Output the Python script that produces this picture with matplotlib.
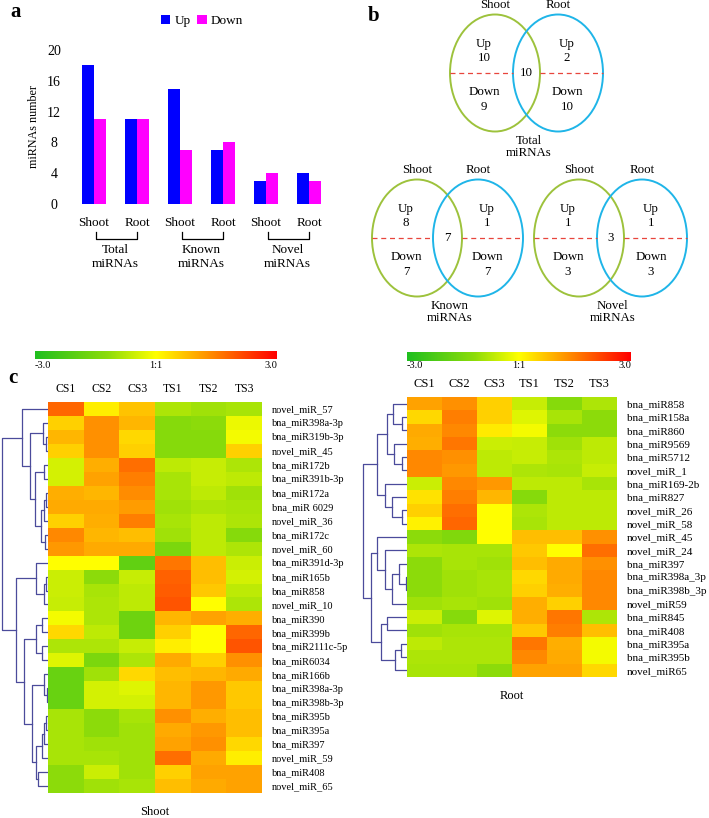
import numpy as np
import matplotlib
matplotlib.use("Agg")
import matplotlib.pyplot as plt
from matplotlib.patches import Ellipse
from matplotlib.colors import LinearSegmentedColormap

plt.rcParams['font.family'] = ['Liberation Serif', 'DejaVu Serif']

W, H = 709, 818

# ---- panel a data
bar_cats = ["Shoot", "Root", "Shoot", "Root", "Shoot", "Root"]
bar_groups = ["Total\nmiRNAs", "Known\nmiRNAs", "Novel\nmiRNAs"]
up_counts = [18, 11, 15, 7, 3, 4]
down_counts = [11, 11, 7, 8, 4, 3]

# ---- panel b data (shoot up, shoot down, common, root up, root down)
venn_names = ["Total\nmiRNAs", "Known\nmiRNAs", "Novel\nmiRNAs"]
shoot_up = [10, 8, 1]
shoot_down = [9, 7, 3]
common = [10, 7, 3]
root_up = [2, 1, 1]
root_down = [10, 7, 3]

# ---- panel c data
samples = ["CS1", "CS2", "CS3", "TS1", "TS2", "TS3"]
shoot_rows = ["novel_miR_57", "bna_miR398a-3p", "bna_miR319b-3p", "novel_miR_45",
              "bna_miR172b", "bna_miR391b-3p", "bna_miR172a", "bna_miR 6029",
              "novel_miR_36", "bna_miR172c", "novel_miR_60", "bna_miR391d-3p",
              "bna_miR165b", "bna_miR858", "novel_miR_10", "bna_miR390",
              "bna_miR399b", "bna_miR2111c-5p", "bna_miR6034", "bna_miR166b",
              "bna_miR398a-3p", "bna_miR398b-3p", "bna_miR395b", "bna_miR395a",
              "bna_miR397", "novel_miR_59", "bna_miR408", "novel_miR_65"]
shoot_vals = [
    [1.8, 0.2, 0.7, -0.85, -1.0, -0.9],
    [0.55, 1.3, 0.85, -1.3, -1.2, -0.2],
    [0.85, 1.3, 0.45, -1.3, -1.3, -0.1],
    [0.55, 1.3, 0.55, -1.3, -1.3, 0.55],
    [-0.45, 0.95, 1.7, -0.7, -0.6, -0.85],
    [-0.45, 1.1, 1.5, -0.9, -0.6, -0.7],
    [0.95, 0.85, 1.35, -0.9, -0.7, -1.0],
    [1.0, 1.0, 1.15, -1.0, -0.85, -0.9],
    [0.55, 0.95, 1.5, -0.9, -0.7, -0.85],
    [1.4, 0.85, 0.75, -1.0, -0.7, -1.3],
    [1.2, 1.0, 1.0, -1.5, -0.7, -0.85],
    [0.0, 0.0, -1.9, 1.6, 0.75, -0.55],
    [-0.55, -1.2, -0.6, 1.85, 0.75, -0.45],
    [-0.55, -0.9, -0.7, 1.9, 0.65, -0.7],
    [-0.6, -0.85, -0.7, 2.0, 0.0, -0.85],
    [-0.1, -0.85, -1.7, 0.85, 1.1, 0.95],
    [0.45, -0.7, -1.7, 0.55, 0.0, 1.8],
    [-0.85, -0.85, -0.6, 0.2, 0.0, 2.0],
    [-0.35, -1.5, -0.85, 1.0, 0.55, 1.3],
    [-1.8, -1.0, 0.45, 0.75, 0.85, 1.0],
    [-1.8, -0.45, -0.35, 0.85, 1.2, 0.65],
    [-1.8, -0.45, -0.45, 0.85, 1.2, 0.65],
    [-0.9, -1.2, -0.9, 1.3, 0.95, 0.75],
    [-0.9, -1.2, -1.0, 1.0, 1.2, 0.75],
    [-0.9, -1.0, -1.0, 1.1, 1.3, 0.45],
    [-0.9, -0.9, -1.0, 1.7, 1.0, 0.2],
    [-1.2, -0.55, -1.0, 0.55, 1.1, 1.1],
    [-1.2, -1.0, -0.9, 0.75, 1.0, 1.1],
]
root_rows = ["bna_miR858", "bna_miR158a", "bna_miR860", "bna_miR9569", "bna_miR5712",
             "novel_miR_1", "bna_miR169-2b", "bna_miR827", "novel_miR_26", "novel_miR_58",
             "novel_miR_45", "novel_miR_24", "bna_miR397", "bna_miR398a_3p",
             "bna_miR398b_3p", "novel_miR59", "bna_miR845", "bna_miR408",
             "bna_miR395a", "bna_miR395b", "novel_miR65"]
root_vals = [
    [1.1, 1.3, 0.55, -0.6, -1.3, -0.85],
    [0.45, 1.5, 0.55, -0.35, -0.9, -1.2],
    [1.0, 1.4, 0.25, -0.1, -1.2, -1.2],
    [0.95, 1.6, -0.55, -0.6, -1.0, -0.7],
    [1.4, 1.3, -0.7, -0.6, -0.85, -0.7],
    [1.4, 1.2, -0.7, -0.85, -0.9, -0.6],
    [-0.55, 1.4, 1.2, -0.7, -0.7, -0.9],
    [0.35, 1.5, 0.85, -1.3, -0.7, -0.7],
    [0.55, 1.7, 0.0, -0.85, -0.7, -0.7],
    [0.15, 1.8, 0.0, -0.9, -0.7, -0.7],
    [-1.2, -1.4, 0.0, 0.75, 0.75, 1.3],
    [-0.85, -0.9, -0.9, 0.65, 0.0, 1.7],
    [-1.2, -0.9, -1.0, 0.75, 1.0, 1.3],
    [-1.2, -1.0, -0.9, 0.45, 1.0, 1.4],
    [-1.2, -1.0, -0.9, 0.55, 0.95, 1.4],
    [-1.0, -0.9, -1.0, 0.95, 0.55, 1.4],
    [-0.55, -1.3, -0.35, 0.95, 1.6, -0.85],
    [-1.0, -0.9, -0.9, 0.65, 1.5, 0.75],
    [-0.7, -0.85, -0.85, 1.6, 0.95, -0.1],
    [-0.85, -0.85, -0.85, 1.4, 1.0, -0.1],
    [-0.9, -0.9, -1.2, 1.1, 1.1, 0.45],
]

# cluster trees: (left, right, height), leaves are row indices
shoot_tree = (
    (0, ((1, (2, 3, 2), 5),
         ((4, 5, 4), (((6, 7, 2), 8, 4), (9, 10, 3), 7), 13), 18), 26),
    ((11, ((12, 13, 2), 14, 4), 12),
     (((15, 16, 6), (17, 18, 6), 12),
      ((19, (20, 21, 1), 4),
       ((((22, 23, 2), 24, 4), 25, 6), (26, 27, 10), 12), 16), 24), 32),
    46)
root_tree = (
    (((0, (1, 2, 5), 14), (3, (4, 5, 5), 13), 20),
     (6, (7, (8, 9, 5), 15), 22), 30),
    ((10, (11, (((13, 14, 1), 12, 8), 15, 15), 22), 30),
     ((16, 17, 20), ((18, 19, 6), 20, 12), 26), 36),
    44)

cmap = LinearSegmentedColormap.from_list(
    "gyr", [(0, "#1fbf1f"), (0.3, "#8ddc0a"), (0.5, "#ffff00"), (1, "#ff0000")])
tree_col = "#4b4b9b"


def rect(l, t, r, b):
    return [l / W, 1 - b / H, (r - l) / W, (b - t) / H]


def draw_tree(ax, node):
    if isinstance(node, int):
        return node, 0.0
    a, b, h = node
    ya, ha = draw_tree(ax, a)
    yb, hb = draw_tree(ax, b)
    ax.plot([ha, h, h, hb], [ya, ya, yb, yb], color=tree_col, lw=0.9)
    return (ya + yb) / 2, h


fig = plt.figure(figsize=(W / 100, H / 100), dpi=100)
ov = fig.add_axes([0, 0, 1, 1])
ov.set_xlim(0, W)
ov.set_ylim(H, 0)
ov.axis('off')

# ================= panel a
ax = fig.add_axes(rect(79, 50, 324, 204))
x = np.arange(len(bar_cats))
bw = 0.28
ax.bar(x - bw / 2, up_counts, bw, color="#0000ff", label="Up")
ax.bar(x + bw / 2, down_counts, bw, color="#ff00ff", label="Down")
ax.set_xlim(-0.35, 5.35)
ax.set_ylim(0, 20)
ax.set_yticks([0, 4, 8, 12, 16, 20])
for s in ax.spines.values():
    s.set_visible(False)
ax.tick_params(axis='y', length=0, pad=18, labelsize=10)
for t in ax.get_yticklabels():
    t.set_horizontalalignment('center')
ax.set_xticks(x, bar_cats)
ax.tick_params(axis='x', length=0, pad=9, labelsize=9.5)
ax.set_ylabel("miRNAs number", fontsize=8.7, labelpad=5)
tr = ax.get_xaxis_transform()
for g, name in enumerate(bar_groups):
    i0, i1 = 2 * g, 2 * g + 1
    ax.plot([i0 + 0.05, i0 + 0.05, i1, i1], [-0.183, -0.227, -0.227, -0.183],
            color="black", lw=0.9, transform=tr, clip_on=False)
    ax.text((i0 + i1) / 2, -0.26, name, transform=tr, ha='center', va='top',
            fontsize=9.5, linespacing=1.2)
ax.legend(ncol=2, loc='center', bbox_to_anchor=(202 / W, 1 - 21 / H),
          bbox_transform=fig.transFigure, frameon=False, fontsize=9.5,
          handlelength=0.75, handleheight=0.75, handletextpad=0.3,
          columnspacing=0.5, borderaxespad=0)

# ================= panel b
venn_layout = [(495, 558, 73), (417, 478, 238), (579, 642, 238)]
ew, eh = 90, 117
for k, (cs, cr, cy) in enumerate(venn_layout):
    ov.add_patch(Ellipse((cs, cy), ew, eh, fill=False, ec="#9dc23c", lw=1.4))
    ov.add_patch(Ellipse((cr, cy), ew, eh, fill=False, ec="#1fb5e8", lw=1.4))
    ov.plot([cs - ew / 2, cr - ew / 2], [cy, cy], color="#e8453c", lw=0.9, ls=(0, (4, 3)))
    ov.plot([cs + ew / 2, cr + ew / 2], [cy, cy], color="#e8453c", lw=0.9, ls=(0, (4, 3)))
    fs = 9.3
    ov.text(cs, cy - 68, "Shoot", ha='center', va='center', fontsize=fs)
    ov.text(cr, cy - 68, "Root", ha='center', va='center', fontsize=fs)
    ov.text(cs - 11, cy - 29, "Up", ha='center', va='center', fontsize=fs)
    ov.text(cs - 11, cy - 15, str(shoot_up[k]), ha='center', va='center', fontsize=fs)
    ov.text(cs - 11, cy + 19, "Down", ha='center', va='center', fontsize=fs)
    ov.text(cs - 11, cy + 34, str(shoot_down[k]), ha='center', va='center', fontsize=fs)
    ov.text(cr + 9, cy - 29, "Up", ha='center', va='center', fontsize=fs)
    ov.text(cr + 9, cy - 15, str(root_up[k]), ha='center', va='center', fontsize=fs)
    ov.text(cr + 9, cy + 19, "Down", ha='center', va='center', fontsize=fs)
    ov.text(cr + 9, cy + 34, str(root_down[k]), ha='center', va='center', fontsize=fs)
    ov.text((cs + cr) / 2, cy, str(common[k]), ha='center', va='center', fontsize=fs)
    ov.text((cs + cr) / 2 + 2, cy + 62, venn_names[k], ha='center', va='top',
            fontsize=fs, linespacing=1.05)

# ================= panel c
def heat_panel(vals, rows, hm_box, tree, tree_left, cb_box, cb_lab_y, title, title_y,
               row_fs, col_fs):
    l, t, r, b = hm_box
    axh = fig.add_axes(rect(l, t, r, b))
    data = np.array(vals)
    n = len(rows)
    axh.imshow(data, cmap=cmap, vmin=-3, vmax=3, aspect='auto', interpolation='nearest')
    axh.set_ylim(n - 0.5, -0.5)
    axh.yaxis.tick_right()
    axh.set_yticks(range(n), rows)
    axh.xaxis.tick_top()
    axh.set_xticks(range(len(samples)), samples)
    axh.tick_params(axis='y', length=0, pad=7, labelsize=row_fs)
    axh.tick_params(axis='x', length=0, pad=5, labelsize=col_fs)
    for s in axh.spines.values():
        s.set_visible(False)
    # dendrogram
    axd = fig.add_axes(rect(tree_left, t, l, b))
    draw_tree(axd, tree)
    axd.set_ylim(n - 0.5, -0.5)
    axd.set_xlim(tree[2] + 1.2, 0)
    axd.axis('off')
    # colour bar
    cl, ct, cr_, cb = cb_box
    axc = fig.add_axes(rect(cl, ct, cr_, cb))
    grad = np.linspace(-3, 3, 256)[None, :]
    axc.imshow(grad, cmap=cmap, vmin=-3, vmax=3, aspect='auto',
               extent=[-3, 3, 0, 1])
    axc.set_xticks([])
    axc.set_yticks([])
    for s in axc.spines.values():
        s.set_visible(False)
    ov.text(cl, cb_lab_y, "-3.0", ha='left', va='center', fontsize=7.5)
    ov.text((cl + cr_) / 2, cb_lab_y, "1:1", ha='center', va='center', fontsize=7.5)
    ov.text(cr_, cb_lab_y, "3.0", ha='right', va='center', fontsize=7.5)
    ov.text((l + r) / 2, title_y, title, ha='center', va='center', fontsize=9)


heat_panel(shoot_vals, shoot_rows, (48, 402, 262, 793), shoot_tree, 1,
           (35, 351, 277, 359), 366, "Shoot", 812, 7.5, 8.5)
heat_panel(root_vals, root_rows, (407, 397, 617, 677), root_tree, 362,
           (407, 352, 631, 361), 366, "Root", 696, 8, 9)

# panel letters
ov.text(10, 12, "a", fontsize=15, fontweight='bold', va='center', ha='left')
ov.text(368, 16, "b", fontsize=15, fontweight='bold', va='center', ha='left')
ov.text(8, 378, "c", fontsize=15, fontweight='bold', va='center', ha='left')

fig.savefig("out.png", dpi=100)
